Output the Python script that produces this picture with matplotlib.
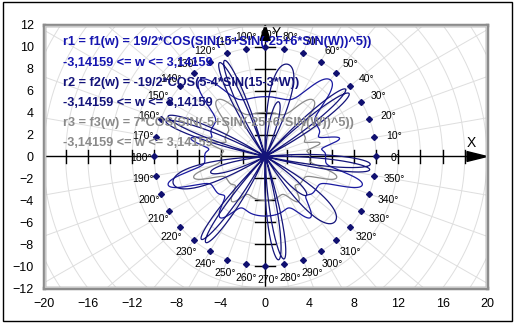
import numpy as np
import matplotlib.pyplot as plt
from matplotlib.patches import Rectangle, Polygon

# curve definitions (coefficients as written in the labels)
w_min, w_max = -3.14159, 3.14159
a1 = 19 / 2      # r1 amplitude
a2 = -19 / 2     # r2 amplitude
a3 = 7           # r3 amplitude

labels = [
    "r1 = f1(w) = 19/2*COS(SIN(-5+SIN(-25+6*SIN(W))^5))",
    "-3,14159 <= w <= 3,14159",
    "r2 = f2(w) = -19/2*COS(5-4*SIN(15-3*W))",
    "-3,14159 <= w <= 3,14159",
    "r3 = f3(w) = 7*COS(SIN(-5+SIN(-25+6*SIN(W))^5))",
    "-3,14159 <= w <= 3,14159",
]
label_colors = ['#1515b0', '#1515b0', '#12127a', '#12127a', '#8a8a8a', '#8a8a8a']

x_ticks = [-20, -16, -12, -8, -4, 0, 4, 8, 12, 16, 20]
y_ticks = [-12, -10, -8, -6, -4, -2, 0, 2, 4, 6, 8, 10, 12]
deg_marks = np.arange(0, 360, 10)
r_marks = 10

w = np.linspace(w_min, w_max, 40000)
r1 = a1 * np.cos(np.sin(-5 + np.sin(-25 + 6 * np.sin(w)) ** 5))
r2 = a2 * np.cos(5 - 4 * np.sin(15 - 3 * w))
r3 = a3 * np.cos(np.sin(-5 + np.sin(-25 + 6 * np.sin(w)) ** 5))

plt.rcParams['font.family'] = ['Liberation Sans', 'DejaVu Sans']

fig = plt.figure(figsize=(5.15, 3.24), dpi=100)
ax = fig.add_axes([0.0845, 0.111, 0.861, 0.812])
ax.set_xlim(-20, 20)
ax.set_ylim(-12, 12)

# polar grid
for rr in np.arange(2, 26, 2):
    t = np.linspace(0, 2 * np.pi, 400)
    ax.plot(rr * np.cos(t), rr * np.sin(t), color='#dedede', lw=0.7, zorder=0)
for a in np.deg2rad(np.arange(0, 360, 10)):
    ax.plot([0, 30 * np.cos(a)], [0, 30 * np.sin(a)], color='#dedede', lw=0.7, zorder=0)

# axes with ticks and arrows
ax.axhline(0, color='black', lw=1, zorder=2)
ax.axvline(0, color='black', lw=1, zorder=2)
for xt in np.arange(-18, 20, 2):
    if xt != 0:
        ax.plot([xt, xt], [-0.6, 0.6], color='black', lw=1, zorder=2)
for yt in np.arange(-10, 12, 2):
    if yt != 0:
        ax.plot([-0.9, 0.9], [yt, yt], color='black', lw=1, zorder=2)
ax.add_patch(Polygon([[18.2, 0.45], [18.2, -0.45], [20, 0]], closed=True,
                     color='black', zorder=3))
ax.add_patch(Polygon([[-0.45, 10.6], [0.45, 10.6], [0, 12]], closed=True,
                     color='black', zorder=3))
ax.text(18.6, 0.6, 'X', fontsize=10, ha='center', va='bottom')
ax.text(0.6, 11.3, 'Y', fontsize=10, ha='left', va='center')

# curves
ax.plot(r3 * np.cos(w), r3 * np.sin(w), color='#8a8a8a', lw=0.9, zorder=4)
ax.plot(r1 * np.cos(w), r1 * np.sin(w), color='#1a1aa0', lw=0.9, zorder=5)
ax.plot(r2 * np.cos(w), r2 * np.sin(w), color='#14147a', lw=0.9, zorder=5)

# angle markers
am = np.deg2rad(deg_marks)
ax.plot(r_marks * np.cos(am), r_marks * np.sin(am), 'D', color='#101070',
        ms=3, zorder=6)
for d in deg_marks:
    a = np.deg2rad(d)
    ax.text(11.5 * np.cos(a) + 0.3, 11.2 * np.sin(a) - 0.1, f'{d}°', fontsize=7.5,
            ha='center', va='center', zorder=7)

# formula text
for i, (s, c) in enumerate(zip(labels, label_colors)):
    ax.text(-18.2, 10.4 - i * 1.83, s, color=c, fontsize=9.2, fontweight='bold',
            ha='left', va='center', zorder=8)

ax.set_xticks(x_ticks)
ax.set_yticks(y_ticks)
ax.tick_params(length=0, labelsize=9, pad=7)
for sp in ax.spines.values():
    sp.set_color('#8c8c8c')
    sp.set_linewidth(2.5)
ax.add_patch(Rectangle((0.003, 0.005), 0.994, 0.99, transform=ax.transAxes,
                       fill=False, ec='#c8c8c8', lw=1, zorder=9))

fig.patches.append(Rectangle((0.005, 0.008), 0.99, 0.985, transform=fig.transFigure,
                             fill=False, ec='black', lw=1))

fig.savefig('out.png', dpi=100)
